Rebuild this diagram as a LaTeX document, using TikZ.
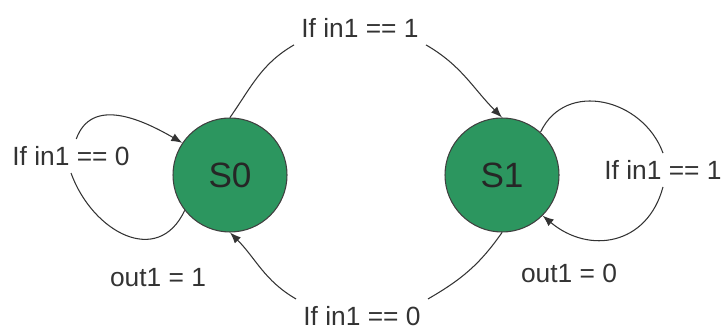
\documentclass[tikz,border=0pt]{standalone}
\usepackage{fontspec}
\setmainfont{Liberation Sans}
\usepackage{tikz}
\usetikzlibrary{arrows.meta,positioning}
\definecolor{stgreen}{RGB}{44,150,95}

\begin{document}
\begin{tikzpicture}[
  st/.style={circle, draw=black!75, line width=0.6pt, fill=stgreen, minimum size=2.28cm, inner sep=0pt, font=\fontsize{20}{24}\selectfont, text=black!85},
  lbl/.style={font=\fontsize{15}{18}\selectfont, inner sep=4pt, text=black!80},
  ln/.style={line width=0.6pt, black!80},
  arr/.style={ln, -{Latex[length=2.2mm,width=1.7mm]}}
]
\useasboundingbox (0,0) rectangle (14.44,6.64);
% --- states ---
\node[st] (s0) at (4.6,3.14)  {S0};
\node[st] (s1) at (10.04,3.14) {S1};
% --- conditions and outputs ---
\node[lbl] (c01) at (7.2,6.08)   {If in1 == 1};
\node[lbl] (c10) at (7.24,0.32)  {If in1 == 0};
\node[lbl] (c00) at (1.42,3.52)  {If in1 == 0};
\node[lbl] (c11) at (13.26,3.24) {If in1 == 1};
\node[lbl] (o1)  at (3.16,1.08)  {out1 = 1};
\node[lbl] (o0)  at (11.38,1.18) {out1 = 0};
% --- transitions between states ---
\draw[ln]  (s0.north) to[out=55,in=-150] (c01.south west);
\draw[arr] (c01.south east) to[out=-30,in=135] (s1.north);
\draw[ln]  (s1.south) to[out=-125,in=30] (c10.north east);
\draw[arr] (c10.north west) to[out=150,in=-45] (s0.south);
% --- self loops ---
\draw[ln]  (s0.-142) to[out=-115,in=-70,looseness=1.35] (c00.south);
\draw[arr] ([xshift=3pt]c00.north) to[out=70,in=150,looseness=1.1] (s0.146);
\draw[ln]  (s1.48) to[out=65,in=110,looseness=1.2] (c11.north);
\draw[arr] (c11.south) to[out=-105,in=-40,looseness=1.25] (s1.-45);
\end{tikzpicture}
\end{document}
